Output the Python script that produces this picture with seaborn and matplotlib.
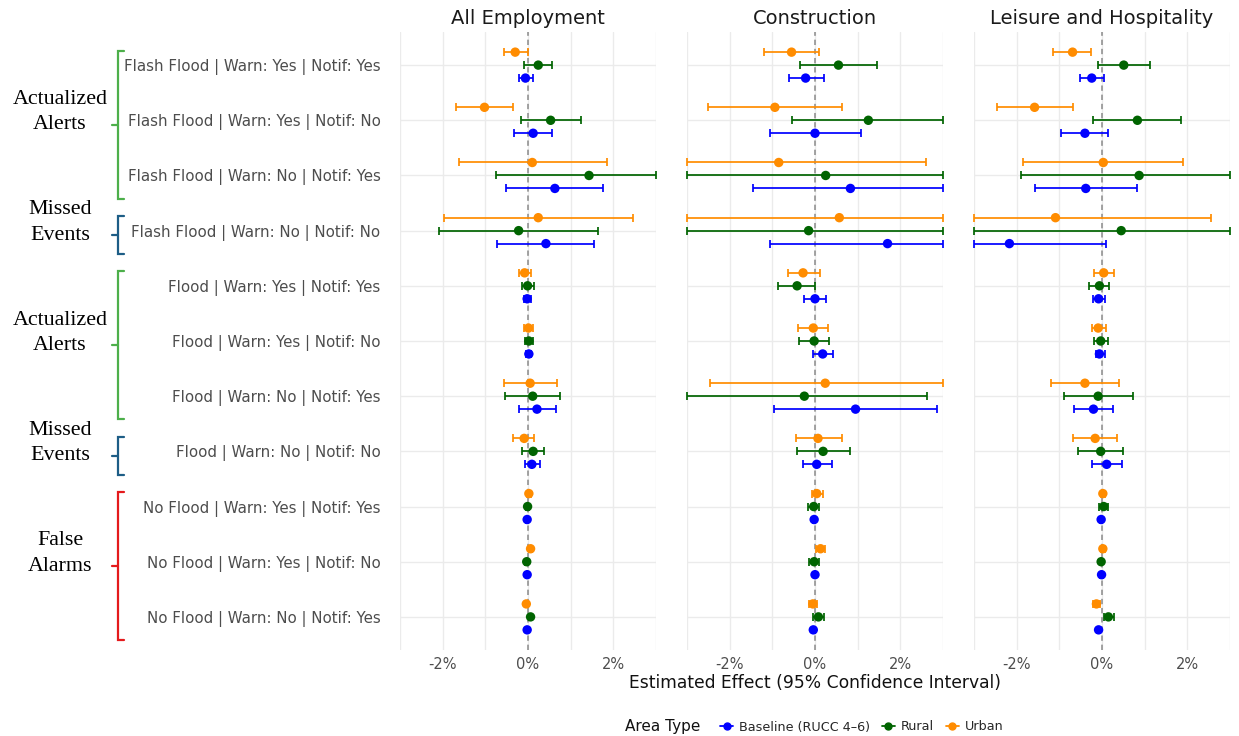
import numpy as np
import pandas as pd
import matplotlib
matplotlib.use("Agg")
import matplotlib.pyplot as plt
import seaborn as sns
from matplotlib.lines import Line2D
from matplotlib import transforms

# ---------------- data ----------------
outcomes = ["All Employment", "Construction", "Leisure and Hospitality"]
categories = [
    "Flash Flood | Warn: Yes | Notif: Yes",
    "Flash Flood | Warn: Yes | Notif: No",
    "Flash Flood | Warn: No | Notif: Yes",
    "Flash Flood | Warn: No | Notif: No",
    "Flood | Warn: Yes | Notif: Yes",
    "Flood | Warn: Yes | Notif: No",
    "Flood | Warn: No | Notif: Yes",
    "Flood | Warn: No | Notif: No",
    "No Flood | Warn: Yes | Notif: Yes",
    "No Flood | Warn: Yes | Notif: No",
    "No Flood | Warn: No | Notif: Yes",
]
areas = ["Baseline (RUCC 4\u20136)", "Rural", "Urban"]

# All Employment
emp_base_est = [-0.06, 0.12, 0.63, 0.42, -0.02, 0.02, 0.21, 0.09, -0.02, -0.02, -0.02]
emp_base_lo = [-0.22, -0.32, -0.52, -0.73, -0.10, -0.04, -0.21, -0.07, -0.05, -0.05, -0.05]
emp_base_hi = [0.11, 0.56, 1.76, 1.55, 0.07, 0.08, 0.65, 0.27, 0.01, 0.01, 0.01]
emp_rur_est = [0.24, 0.53, 1.43, -0.22, -0.01, 0.02, 0.11, 0.12, -0.01, -0.03, 0.06]
emp_rur_lo = [-0.10, -0.16, -0.75, -2.08, -0.15, -0.08, -0.55, -0.15, -0.04, -0.06, 0.03]
emp_rur_hi = [0.56, 1.25, 3.0, 1.63, 0.15, 0.11, 0.76, 0.38, 0.02, 0.00, 0.09]
emp_urb_est = [-0.30, -1.02, 0.10, 0.24, -0.08, 0.01, 0.05, -0.09, 0.02, 0.06, -0.04]
emp_urb_lo = [-0.57, -1.69, -1.62, -1.96, -0.22, -0.10, -0.56, -0.35, -0.02, 0.02, -0.08]
emp_urb_hi = [0.00, -0.35, 1.84, 2.45, 0.08, 0.12, 0.69, 0.15, 0.06, 0.10, 0.00]

# Construction
con_base_est = [-0.22, 0.00, 0.83, 1.70, 0.00, 0.18, 0.95, 0.04, -0.02, 0.00, -0.04]
con_base_lo = [-0.61, -1.06, -1.46, -1.06, -0.25, -0.04, -0.97, -0.29, -0.05, -0.03, -0.07]
con_base_hi = [0.21, 1.07, 3.0, 3.0, 0.25, 0.42, 2.86, 0.39, 0.01, 0.03, -0.01]
con_rur_est = [0.55, 1.25, 0.25, -0.15, -0.42, -0.02, -0.25, 0.19, -0.03, -0.02, 0.08]
con_rur_lo = [-0.34, -0.55, -3.0, -3.0, -0.86, -0.37, -3.0, -0.42, -0.16, -0.13, -0.04]
con_rur_hi = [1.46, 3.0, 3.0, 3.0, 0.01, 0.32, 2.62, 0.82, 0.10, 0.10, 0.21]
con_urb_est = [-0.55, -0.94, -0.85, 0.57, -0.28, -0.04, 0.24, 0.07, 0.04, 0.13, -0.05]
con_urb_lo = [-1.19, -2.50, -3.0, -3.0, -0.64, -0.39, -2.47, -0.44, -0.07, 0.03, -0.14]
con_urb_hi = [0.10, 0.63, 2.61, 3.0, 0.11, 0.31, 3.0, 0.63, 0.18, 0.24, 0.04]

# Leisure and Hospitality
lei_base_est = [-0.24, -0.40, -0.38, -2.17, -0.08, -0.06, -0.20, 0.11, -0.02, -0.01, -0.08]
lei_base_lo = [-0.52, -0.95, -1.56, -3.0, -0.20, -0.15, -0.65, -0.24, -0.05, -0.04, -0.11]
lei_base_hi = [0.05, 0.13, 0.83, 0.09, 0.06, 0.06, 0.26, 0.48, 0.01, 0.02, -0.05]
lei_rur_est = [0.51, 0.83, 0.87, 0.45, -0.06, -0.03, -0.09, -0.03, 0.04, -0.02, 0.15]
lei_rur_lo = [-0.09, -0.21, -1.90, -3.0, -0.30, -0.19, -0.90, -0.57, -0.06, -0.05, 0.04]
lei_rur_hi = [1.12, 1.85, 3.0, 3.0, 0.17, 0.13, 0.72, 0.50, 0.15, 0.01, 0.28]
lei_urb_est = [-0.69, -1.58, 0.03, -1.09, 0.04, -0.09, -0.40, -0.16, 0.02, 0.02, -0.13]
lei_urb_lo = [-1.14, -2.45, -1.86, -3.0, -0.18, -0.24, -1.20, -0.68, -0.03, -0.02, -0.22]
lei_urb_hi = [-0.25, -0.69, 1.91, 2.56, 0.27, 0.09, 0.39, 0.36, 0.07, 0.06, -0.04]

group_labels = ["Actualized\nAlerts", "Missed\nEvents", "Actualized\nAlerts", "Missed\nEvents", "False\nAlarms"]
group_first = [0, 3, 4, 7, 8]
group_last = [2, 3, 6, 7, 10]
group_colors = ["#4DAF4A", "#1D5D86", "#4DAF4A", "#1D5D86", "#E41A1C"]

# ---------------- build long table ----------------
series = {
    ("All Employment", areas[0]): (emp_base_est, emp_base_lo, emp_base_hi),
    ("All Employment", areas[1]): (emp_rur_est, emp_rur_lo, emp_rur_hi),
    ("All Employment", areas[2]): (emp_urb_est, emp_urb_lo, emp_urb_hi),
    ("Construction", areas[0]): (con_base_est, con_base_lo, con_base_hi),
    ("Construction", areas[1]): (con_rur_est, con_rur_lo, con_rur_hi),
    ("Construction", areas[2]): (con_urb_est, con_urb_lo, con_urb_hi),
    ("Leisure and Hospitality", areas[0]): (lei_base_est, lei_base_lo, lei_base_hi),
    ("Leisure and Hospitality", areas[1]): (lei_rur_est, lei_rur_lo, lei_rur_hi),
    ("Leisure and Hospitality", areas[2]): (lei_urb_est, lei_urb_lo, lei_urb_hi),
}
dodge = {areas[0]: 0.235, areas[1]: 0.0, areas[2]: -0.235}
rows = []
for (out, area), (est, lo, hi) in series.items():
    for i, cat in enumerate(categories):
        rows.append(dict(outcome=out, area=area, category=cat, row=i,
                         ypos=i + dodge[area], est=est[i], lo=lo[i], hi=hi[i]))
df = pd.DataFrame(rows)

palette = {areas[0]: "#0000FF", areas[1]: "#006400", areas[2]: "#FF8C00"}
XLIM = (-3, 3)

sns.set_theme(style="whitegrid")
plt.rcParams["font.family"] = ["DejaVu Sans"]

g = sns.FacetGrid(df, col="outcome", col_order=outcomes, sharey=True, sharex=True,
                  height=6, aspect=0.5, despine=False)


def draw(data, **kw):
    ax = plt.gca()
    for area in areas:
        d = data[data["area"] == area]
        lo = np.clip(d["lo"].values, *XLIM)
        hi = np.clip(d["hi"].values, *XLIM)
        est = d["est"].values
        ax.errorbar(est, d["ypos"].values, xerr=[est - lo, hi - est], fmt="none",
                    ecolor=palette[area], elinewidth=1.25, capsize=2.8, capthick=1.25,
                    zorder=2, clip_on=False)
    sns.scatterplot(data=data, x="est", y="ypos", hue="area", palette=palette,
                    hue_order=areas, s=46, edgecolor="none", linewidth=0,
                    legend=False, ax=ax, zorder=3)


g.map_dataframe(draw)
g.set_titles("{col_name}", size=14, color="#1A1A1A")

fig = g.figure
fig.set_size_inches(12.39, 7.36)
fig.set_dpi(100)
fig.subplots_adjust(left=400 / 1239, right=1230 / 1239, top=1 - 32 / 736,
                    bottom=1 - 650 / 736, wspace=0.121)

for ax in g.axes.flat:
    ax.set_xlim(*XLIM)
    ax.set_ylim(len(categories) - 0.4, -0.6)
    ax.axvline(0, color="#8A8A8A", lw=1.1, ls=(0, (3.5, 2.5)), zorder=1)
    ax.set_xticks([-2, 0, 2])
    ax.set_xticklabels(["-2%", "0%", "2%"])
    ax.set_xticks([-3, -1, 1, 3], minor=True)
    ax.set_yticks(range(len(categories)))
    ax.grid(True, which="both", axis="x", color="#EBEBEB", lw=1.0)
    ax.grid(True, which="major", axis="y", color="#EBEBEB", lw=1.0)
    ax.set_facecolor("white")
    for s in ax.spines.values():
        s.set_visible(False)
    ax.tick_params(axis="x", which="both", length=0, labelsize=10.5,
                   labelcolor="#4D4D4D", pad=5)
    ax.tick_params(axis="y", length=0, labelsize=10.8, labelcolor="#4D4D4D", pad=14)
    ax.set_xlabel("")
    ax.set_ylabel("")
    ax.set_axisbelow(True)

ax0 = g.axes.flat[0]
ax0.set_yticklabels(categories)
ax0.tick_params(axis="y", length=6, width=1.0, color="#E5E5E5", pad=8)

# x title
fig.text((400 + 1230) / 2 / 1239, 1 - 683 / 736, "Estimated Effect (95% Confidence Interval)",
         ha="center", va="center", fontsize=12.3, color="#111111")

# group brackets and labels
trans = transforms.blended_transform_factory(fig.transFigure, ax0.transData)
xv = 117.5 / 1239
xr = 124 / 1239
xl = 112 / 1239
for lab, f, l, c in zip(group_labels, group_first, group_last, group_colors):
    top = f - 0.26
    bot = l + 0.42
    mid = (top + bot) / 2
    ax0.add_line(Line2D([xr, xv, xv, xr], [top, top, bot, bot], transform=trans,
                        color=c, lw=1.6, clip_on=False, solid_joinstyle="miter"))
    ax0.add_line(Line2D([xv, xl], [mid, mid], transform=trans, color=c, lw=1.6,
                        clip_on=False))
    ax0.annotate(lab, xy=(60 / 1239, mid), xycoords=trans, xytext=(0, 9),
                 textcoords="offset points", ha="center", va="center",
                 fontsize=15.8, family="Liberation Serif", linespacing=1.45,
                 color="black", annotation_clip=False)

# legend
handles = [Line2D([], [], color=palette[a], marker="o", markersize=5, lw=1.3) for a in areas]
fig.legend(handles, areas, loc="center", ncol=3, frameon=False,
           bbox_to_anchor=(862 / 1239, 1 - 727 / 736), fontsize=9.2,
           handlelength=1.0, handletextpad=0.5, columnspacing=0.9)
fig.text(700 / 1239, 1 - 727 / 736, "Area Type", ha="right", va="center",
         fontsize=11, color="#111111")

fig.savefig("out.png", dpi=100, facecolor="white")
